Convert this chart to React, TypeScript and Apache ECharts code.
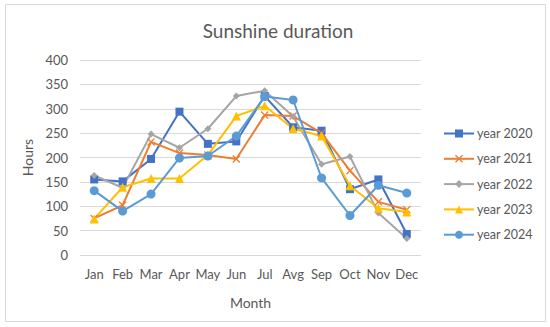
import React, { useEffect, useRef } from "react";
import * as echarts from "echarts";

const months = ["Jan", "Feb", "Mar", "Apr", "May", "Jun", "Jul", "Avg", "Sep", "Oct", "Nov", "Dec"];
const seriesNames = ["year 2020", "year 2021", "year 2022", "year 2023", "year 2024"];
const y2020 = [155, 151, 197, 294, 228, 233, 326, 262, 255, 135, 155, 43];
const y2021 = [75, 102, 232, 209, 205, 197, 287, 285, 250, 173, 109, 93];
const y2022 = [163, 138, 248, 220, 259, 326, 337, 284, 186, 202, 86, 34];
const y2023 = [74, 139, 157, 157, 205, 285, 306, 259, 244, 142, 96, 88];
const y2024 = [132, 90, 125, 199, 203, 244, 325, 318, 158, 81, 143, 127];
const yTicks = { min: 0, max: 400, interval: 50 };

const colors = ["#4472C4", "#ED7D31", "#A5A5A5", "#FFC000", "#5B9BD5"];
const symbols = [
  "rect",
  "path://M0,1.2 L1.2,0 L5,3.8 L8.8,0 L10,1.2 L6.2,5 L10,8.8 L8.8,10 L5,6.2 L1.2,10 L0,8.8 L3.8,5 Z",
  "diamond",
  "triangle",
  "circle",
];
const symbolSizes = [8, 8, 7, 9, 9];
const FONT = "Lato";
const TEXT = "#595959";

export default function App() {
  const ref = useRef<HTMLDivElement>(null);
  useEffect(() => {
    if (!ref.current) return;
    const chart = echarts.init(ref.current, undefined, { renderer: "svg" });
    const data = [y2020, y2021, y2022, y2023, y2024];
    chart.setOption({
      animation: false,
      backgroundColor: "#ffffff",
      textStyle: { fontFamily: FONT },
      title: {
        text: "Sunshine duration",
        left: 273,
        textAlign: "center",
        top: 16,
        textStyle: { fontFamily: FONT, fontSize: 19, fontWeight: "normal", color: TEXT },
      },
      graphic: [
        {
          type: "rect",
          shape: { x: 5.5, y: 4.5, width: 540, height: 317 },
          style: { fill: "none", stroke: "#d9d9d9", lineWidth: 1 },
          silent: true,
        },
      ],
      legend: {
        orient: "vertical",
        left: 438,
        top: 121,
        itemWidth: 30,
        itemHeight: 10,
        itemGap: 10.3,
        data: seriesNames,
        textStyle: { fontFamily: FONT, fontSize: 12.5, color: TEXT, padding: [0, 0, 0, -2], lineHeight: 15 },
      },
      grid: { left: 80, right: 129, top: 60, bottom: 72, containLabel: false },
      xAxis: {
        type: "category",
        data: months,
        boundaryGap: true,
        name: "Month",
        nameLocation: "middle",
        nameGap: 40,
        nameTextStyle: { fontFamily: FONT, fontSize: 14, color: TEXT },
        axisLine: { show: false },
        axisTick: { show: false },
        axisLabel: { fontFamily: FONT, fontSize: 13, color: TEXT, margin: 12, interval: 0 },
      },
      yAxis: {
        type: "value",
        min: yTicks.min,
        max: yTicks.max,
        interval: yTicks.interval,
        name: "Hours",
        nameLocation: "middle",
        nameGap: 42,
        nameRotate: 90,
        nameTextStyle: { fontFamily: FONT, fontSize: 14, color: TEXT },
        axisLine: { show: false },
        axisTick: { show: false },
        axisLabel: { fontFamily: FONT, fontSize: 13, color: TEXT, margin: 12 },
        splitLine: { lineStyle: { color: "#d9d9d9", width: 1 } },
      },
      series: data.map((d, i) => ({
        name: seriesNames[i],
        type: "line",
        data: d,
        symbol: symbols[i],
        symbolSize: symbolSizes[i],
        showAllSymbol: true,
        lineStyle: { color: colors[i], width: 2 },
        itemStyle: { color: colors[i], borderColor: colors[i], borderWidth: 0 },
        emphasis: { disabled: true },
      })),
    });
    return () => chart.dispose();
  }, []);
  return (
    <div style={{ position: "fixed", left: 0, top: 0, width: 550, height: 327 }}>
      <div ref={ref} style={{ width: 550, height: 327 }} />
    </div>
  );
}
